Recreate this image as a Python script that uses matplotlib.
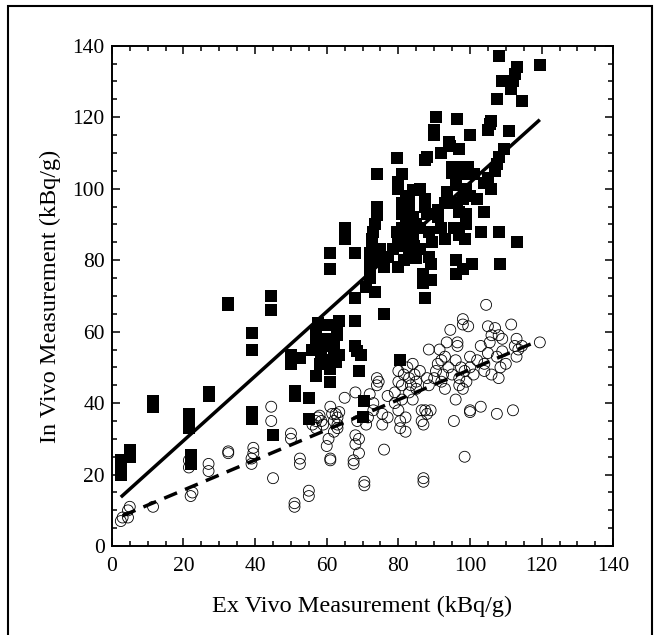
import numpy as np
import matplotlib
matplotlib.use("Agg")
import matplotlib.pyplot as plt
from matplotlib.patches import Rectangle
from matplotlib.ticker import MultipleLocator

# in vivo vs ex vivo, filled squares
sq_x = [2.5, 2.5, 2.5, 5, 5, 11.5, 11.5, 21.5, 21.5, 21.5, 22, 22, 27, 27, 32.5, 32.5,
        39, 39, 39, 39, 44.5, 44.5, 45, 50, 50, 51, 51, 52.5, 55, 55,
        56, 57, 57, 57.5, 57, 58, 58.5, 59, 59.5, 60, 60.5, 61, 61, 61, 61, 62, 62, 62.5,
        63, 63, 63.5, 63.5, 65, 65, 68, 68, 68, 68, 68.5, 69, 69.5,
        70, 70.5, 71, 72, 72, 72, 72, 72.5, 72.5, 73, 73.5, 73.5, 74, 74, 74, 75, 75.5,
        76, 76, 77, 78.5, 79.5, 80, 80, 79.5, 80, 80, 80.5, 81, 81, 81, 81, 81, 81.5,
        82, 82, 82, 82.5, 83, 83, 83, 84, 84, 84, 84.5, 85, 85, 86, 86, 86, 87, 87,
        87.5, 87.5, 87.5, 88, 87.5, 88, 88.5, 88.5, 89, 89, 89.5, 90, 90, 90.5, 91, 91,
        92, 92, 93, 93, 93.5, 94, 94.5, 95, 95, 95.5, 96, 96, 96, 96.5, 96.5, 97, 97, 97,
        97.5, 98, 98, 98, 98.5, 99, 99, 99, 99.5, 100, 100, 100.5, 101, 102, 103, 104, 104,
        105, 105, 105.5, 106, 106, 107, 107.5, 107.5, 108, 108, 108, 108.5, 109, 109.5,
        111, 111.5, 112, 112.5, 113, 113, 114.5, 119.5]
sq_y = [20, 22.5, 24, 25, 27, 39, 40.5, 33, 35, 37, 23, 25.5, 42, 43, 67.5, 68,
        55, 59.5, 35.5, 37.5, 66, 70, 31, 51, 53.5, 42, 43.5, 52.5, 41.5, 35.5,
        55, 57, 60, 62.5, 47.5, 51, 54, 56, 58, 62, 52, 46, 49.5, 77.5, 82, 55, 57, 51.5,
        59, 61, 63, 53.5, 86, 89, 82, 69.5, 63, 56, 54.5, 49, 53.5,
        36, 40.5, 72.5, 75, 78.5, 80, 82, 84, 86, 88, 71, 90, 92.5, 95, 104, 83, 80,
        78, 65, 81, 83, 108.5, 102, 100, 88, 85, 78, 52, 104, 96, 93, 89, 84, 80,
        98, 86, 91, 88, 97, 94, 82, 99.5, 92, 87, 84, 90, 80.5, 100, 89, 83, 76, 73.5,
        97, 95, 108, 109, 69.5, 93, 88, 81, 79, 74.5, 85, 115, 116.5, 120, 94, 92,
        110, 89, 86, 96, 99, 113, 112, 106, 104.5, 89, 101, 80, 76, 119.5, 96, 93.5, 111, 87,
        106, 97, 104, 77.5, 86, 90, 93, 100, 106, 115, 98, 79, 104, 97, 88, 93.5, 101.5,
        103, 116.5, 118, 119, 100, 105, 125, 107, 109, 137, 88, 79, 130, 111,
        116, 128, 130, 132, 134, 85, 124.5, 134.5]

# open circles
ci_x = [2.5, 3, 4.5, 4.5, 5, 11.5, 21.5, 21.5, 22, 22.5, 27, 27, 32.5, 32.5,
        39, 39, 39.5, 39.5, 44.5, 44.5, 45, 50, 50, 51, 51, 52.5, 52.5, 55, 55,
        56, 57, 57.5, 57, 58, 58.5, 59, 60, 60.5, 61, 61, 61, 61.5, 62, 62, 62.5, 63, 63,
        63.5, 63, 65, 67.5, 67.5, 68, 68, 68, 68.5, 69, 69, 70.5, 70.5,
        71, 71.5, 72, 73, 73, 74, 74, 74.5, 75.5, 75.5, 76, 77, 77,
        79, 79, 80, 80, 80, 80.5, 80.5, 81, 81, 81.5, 82, 82, 82.5, 83, 83, 83.5, 84, 84,
        84.5, 85, 85, 86, 86.5, 86.5, 87, 87, 87, 87.5, 88, 88, 88.5, 88.5, 89, 90, 90.5,
        91, 91.5, 92, 92, 92.5, 93, 93, 93.5, 94, 94.5, 95, 95.5, 96, 96, 96.5, 96.5, 97,
        97, 97.5, 98, 98, 98, 98.5, 98.5, 99, 99.5, 100, 100, 100, 100, 101, 102, 103, 103,
        104, 104, 104.5, 105, 105, 105.5, 106, 106, 107, 107.5, 107.5, 108, 108, 108.5,
        109, 109, 110, 111.5, 112, 112.5, 113, 113, 113.5, 114.5, 119.5]
ci_y = [7, 8, 8, 10, 11, 11, 22, 24, 14, 15, 21, 23, 26, 26.5,
        23, 24.5, 26, 27.5, 35, 39, 19, 30, 31.5, 11, 12, 23, 24.5, 14, 15.5,
        34, 35, 36, 33, 36.5, 35, 34, 28, 30, 24, 24.5, 39, 37, 32, 35, 37, 36, 34,
        37.5, 33, 41.5, 23, 24, 28.5, 31, 43, 35, 26, 30, 17, 18,
        34, 36, 42.5, 38, 40, 45, 47, 46, 37, 34, 27, 42, 36,
        40, 43, 46, 49, 38, 35, 33, 41, 45, 48, 36, 32, 50, 47, 43, 45, 51, 41,
        48, 46, 44, 49, 35, 38, 34, 19, 18, 38, 37, 47, 45, 55, 38, 47, 49,
        51, 55, 52, 46, 48, 44, 53, 57, 50, 60.5, 48, 35, 52, 41, 56, 57, 47,
        45, 50, 44, 63.5, 62, 25, 49, 46, 61.5, 50, 53, 38, 37.5, 48, 52, 39, 56,
        49, 51, 67.5, 54, 61.5, 57, 48, 59, 61, 53, 37, 47, 59, 50,
        54.5, 58, 51, 62, 38, 56, 58, 53, 55, 56, 57]

# regression lines
fit_sq_x = [2.5, 119.5]
fit_sq_y = [13.7, 119.3]
fit_ci_x = [3, 119]
fit_ci_y = [8.5, 57.4]

plt.rcParams["font.family"] = ["Liberation Serif", "DejaVu Serif"]

fig = plt.figure(figsize=(6.58, 6.35), dpi=100)
ax = fig.add_axes([0.170, 0.140, 0.762, 0.788])

ax.scatter(ci_x, ci_y, s=62, facecolors="none", edgecolors="black", linewidths=0.6, zorder=2)
ax.scatter(sq_x, sq_y, s=75, marker="s", color="black", linewidths=0, zorder=3)
ax.plot(fit_sq_x, fit_sq_y, color="black", lw=2.5, solid_capstyle="butt", zorder=4)
ax.plot(fit_ci_x, fit_ci_y, color="black", lw=2.5, dashes=(4, 2.5), zorder=4)

ax.set_xlim(0, 140)
ax.set_ylim(0, 140)
ax.xaxis.set_major_locator(MultipleLocator(20))
ax.xaxis.set_minor_locator(MultipleLocator(5))
ax.yaxis.set_major_locator(MultipleLocator(20))
ax.yaxis.set_minor_locator(MultipleLocator(5))
ax.tick_params(which="both", direction="in", top=True, right=True, width=1.1, labelsize=15.5)
ax.tick_params(which="major", length=6)
ax.tick_params(which="minor", length=3.5)
ax.tick_params(axis="x", pad=8)
ax.tick_params(axis="y", pad=5)
for sp in ax.spines.values():
    sp.set_linewidth(1.4)

ax.set_xlabel("Ex Vivo Measurement (kBq/g)", fontsize=17.5, labelpad=14)
ax.set_ylabel("In Vivo Measurement (kBq/g)", fontsize=17.5, labelpad=8)

# outer frame round the whole figure
fig.patches.append(Rectangle((8 / 658, -0.02), 644 / 658, 1.01, transform=fig.transFigure,
                             fill=False, edgecolor="black", linewidth=1.5))

fig.savefig("out.png", dpi=100)
